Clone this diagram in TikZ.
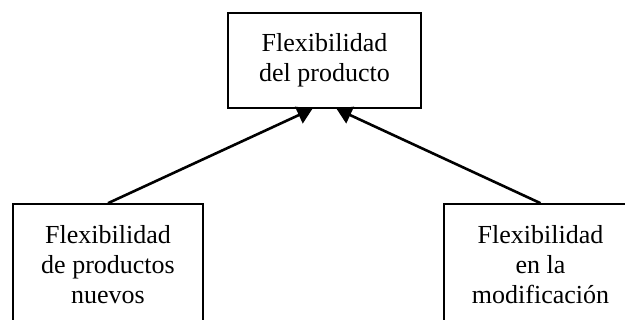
\documentclass[tikz,border=0pt]{standalone}
\usepackage{fontspec}
\setmainfont{Liberation Serif}
\usetikzlibrary{arrows.meta}
\begin{document}
\begin{tikzpicture}[x=1pt, y=1pt]
\useasboundingbox (0,0) rectangle (625,320);
\clip (0,0) rectangle (625,320);
\node[shape=rectangle, draw=black, line width=1.6pt, minimum width=193pt, minimum height=95pt, align=center, font=\fontsize{26}{30}\selectfont] (T) at (324.5,259.5) {Flexibilidad\\del producto};
\node[shape=rectangle, draw=black, line width=1.6pt, minimum width=190pt, minimum height=122pt, align=center, font=\fontsize{26}{30}\selectfont] (L) at (108,55) {Flexibilidad\\de productos\\nuevos};
\node[shape=rectangle, draw=black, line width=1.6pt, minimum width=193pt, minimum height=122pt, align=center, font=\fontsize{26}{30}\selectfont] (R) at (540.5,55) {Flexibilidad\\en la\\modificación};
\draw [-{Triangle[length=15pt,width=18pt]}, line width=2.6pt, draw=black] (L.north) -- (T.256);
\draw [-{Triangle[length=15pt,width=18pt]}, line width=2.6pt, draw=black] (R.north) -- (T.284);
\end{tikzpicture}
\end{document}
